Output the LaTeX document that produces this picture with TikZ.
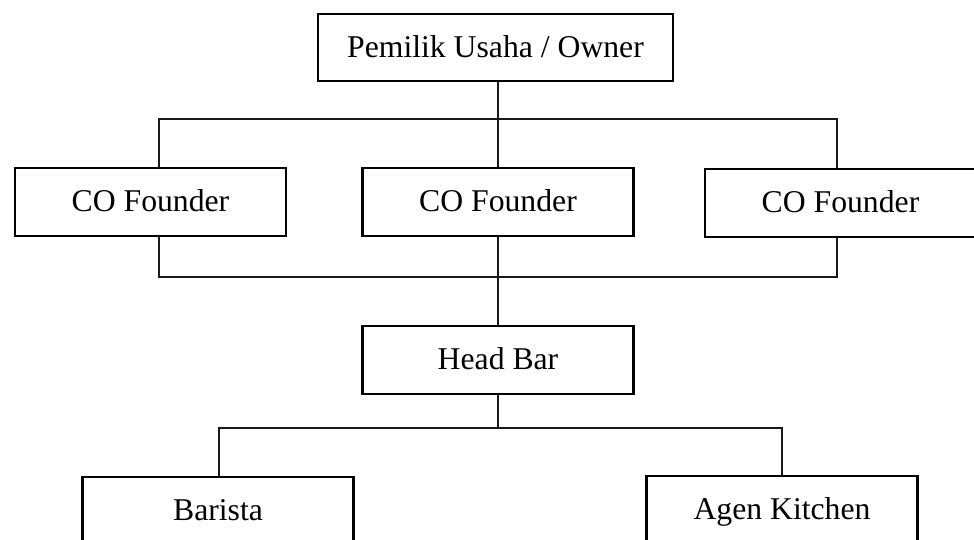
\documentclass[tikz,border=0pt]{standalone}
\usepackage{fontspec}
\setmainfont{Liberation Serif}
\begin{document}
\begin{tikzpicture}[x=1pt,y=-1pt,
  box/.style={draw=black,line width=2.4pt,rectangle,inner sep=0pt,
    minimum width=271pt,minimum height=68pt,text depth=0.3em,
    font=\fontsize{31.7}{38}\selectfont},
  conn/.style={draw=black!90,line width=1.2pt}]
\useasboundingbox (0,0) rectangle (974,539);
\clip (0,0) rectangle (974,539);
\node[box,minimum width=355pt,minimum height=67pt] (owner) at (495.5,47.5) {Pemilik Usaha / Owner};
\node[box] (co1) at (150.5,202) {CO Founder};
\node[box] (co2) at (498,202) {CO Founder};
\node[box] (co3) at (840.5,203) {CO Founder};
\node[box] (head) at (498,360) {Head Bar};
\node[box] (barista) at (218,511) {Barista};
\node[box] (agen) at (782,510) {Agen Kitchen};
\coordinate (topL) at (159,119);
\coordinate (topR) at (837,119);
\coordinate (botL) at (159,277);
\coordinate (botR) at (837,277);
\coordinate (lowL) at (219,428);
\coordinate (lowR) at (782,428);
\draw[conn] (owner.south -| co2) -- (co2.north);
\draw[conn] (co1.north -| topL) -- (topL) -- (topR) -- (co3.north -| topR);
\draw[conn] (co1.south -| botL) -- (botL) -- (botR) -- (co3.south -| botR);
\draw[conn] (co2.south) -- (head.north);
\draw[conn] (head.south) -- (head.south |- lowL);
\draw[conn] (barista.north -| lowL) -- (lowL) -- (lowR) -- (agen.north -| lowR);
\end{tikzpicture}
\end{document}
